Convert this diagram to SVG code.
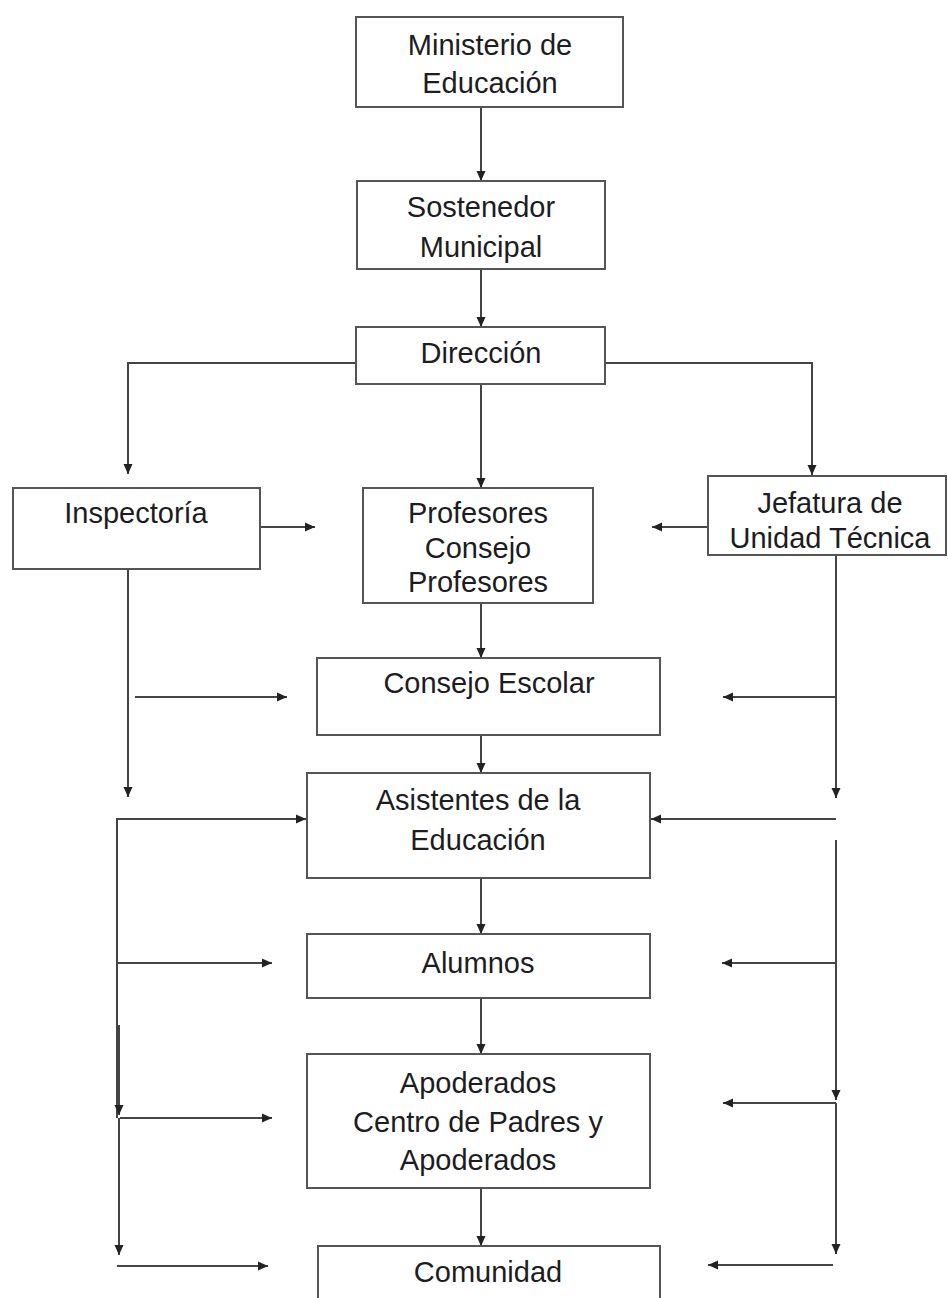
<svg xmlns="http://www.w3.org/2000/svg" width="948" height="1298" viewBox="0 0 948 1298">
<defs>
<marker id="ah" markerUnits="userSpaceOnUse" markerWidth="11" markerHeight="10" refX="10" refY="5" orient="auto">
<path d="M0,0.5 L10,5 L0,9.5 z" fill="#222"/>
</marker>
<style>
.box{fill:#fff;stroke:#555;stroke-width:2}
.t{font-family:"Liberation Sans",Arial,sans-serif;font-size:29px;fill:#1c1c22;text-anchor:middle}
.c{fill:none;stroke:#444;stroke-width:2}
.a{fill:none;stroke:#444;stroke-width:2;marker-end:url(#ah)}
</style>
</defs>
<rect width="948" height="1298" fill="#fff"/>
<g id="connectors">
<line class="a" x1="481" y1="107" x2="481" y2="181"/>
<line class="a" x1="481" y1="269" x2="481" y2="327"/>
<line class="a" x1="481" y1="384" x2="481" y2="488"/>
<line class="a" x1="481" y1="603" x2="481" y2="658"/>
<line class="a" x1="481" y1="735" x2="481" y2="773"/>
<line class="a" x1="481" y1="878" x2="481" y2="934"/>
<line class="a" x1="481" y1="998" x2="481" y2="1054"/>
<line class="a" x1="481" y1="1188" x2="481" y2="1246"/>
<polyline class="a" points="356,363 128,363 128,474"/>
<polyline class="a" points="605,363 812,363 812,475"/>
<line class="a" x1="260" y1="527" x2="315" y2="527"/>
<line class="a" x1="708" y1="527" x2="652" y2="527"/>
<line class="a" x1="128" y1="569" x2="128" y2="797"/>
<line class="a" x1="135" y1="697" x2="287" y2="697"/>
<polyline class="a" points="117,1118 117,819 306,819"/>
<line class="a" x1="117" y1="963" x2="272" y2="963"/>
<line class="a" x1="119" y1="1025" x2="119" y2="1115"/>
<line class="a" x1="120" y1="1118" x2="272" y2="1118"/>
<line class="a" x1="119" y1="1118" x2="119" y2="1255"/>
<line class="a" x1="117" y1="1266" x2="268" y2="1266"/>
<line class="a" x1="836" y1="555" x2="836" y2="798"/>
<line class="a" x1="836" y1="697" x2="723" y2="697"/>
<line class="a" x1="836" y1="819" x2="651" y2="819"/>
<line class="a" x1="836" y1="840" x2="836" y2="1100"/>
<line class="a" x1="836" y1="963" x2="722" y2="963"/>
<line class="a" x1="836" y1="1103" x2="723" y2="1103"/>
<line class="a" x1="836" y1="1103" x2="836" y2="1254"/>
<line class="a" x1="833" y1="1265" x2="708" y2="1265"/>
</g>
<g id="ministerio">
<rect class="box" x="356" y="17" width="267" height="90"/>
<text class="t" x="490" y="55">Ministerio de</text>
<text class="t" x="490" y="93">Educación</text>
</g>
<g id="sostenedor">
<rect class="box" x="357" y="181" width="248" height="88"/>
<text class="t" x="481" y="217">Sostenedor</text>
<text class="t" x="481" y="257">Municipal</text>
</g>
<g id="direccion">
<rect class="box" x="356" y="327" width="249" height="57"/>
<text class="t" x="481" y="363">Dirección</text>
</g>
<g id="inspectoria">
<rect class="box" x="13" y="488" width="247" height="81"/>
<text class="t" x="136" y="523">Inspectoría</text>
</g>
<g id="profesores">
<rect class="box" x="363" y="488" width="230" height="115"/>
<text class="t" x="478" y="523">Profesores</text>
<text class="t" x="478" y="558">Consejo</text>
<text class="t" x="478" y="592">Profesores</text>
</g>
<g id="jefatura">
<rect class="box" x="708" y="476" width="238" height="79"/>
<text class="t" x="830" y="513">Jefatura de</text>
<text class="t" x="830" y="548">Unidad Técnica</text>
</g>
<g id="consejo-escolar">
<rect class="box" x="317" y="658" width="343" height="77"/>
<text class="t" x="489" y="693">Consejo Escolar</text>
</g>
<g id="asistentes">
<rect class="box" x="307" y="773" width="343" height="105"/>
<text class="t" x="478" y="810">Asistentes de la</text>
<text class="t" x="478" y="850">Educación</text>
</g>
<g id="alumnos">
<rect class="box" x="307" y="934" width="343" height="64"/>
<text class="t" x="478" y="973">Alumnos</text>
</g>
<g id="apoderados">
<rect class="box" x="307" y="1054" width="343" height="134"/>
<text class="t" x="478" y="1093">Apoderados</text>
<text class="t" x="478" y="1132">Centro de Padres y</text>
<text class="t" x="478" y="1170">Apoderados</text>
</g>
<g id="comunidad">
<rect class="box" x="318" y="1246" width="342" height="70"/>
<text class="t" x="488" y="1282">Comunidad</text>
</g>
</svg>
